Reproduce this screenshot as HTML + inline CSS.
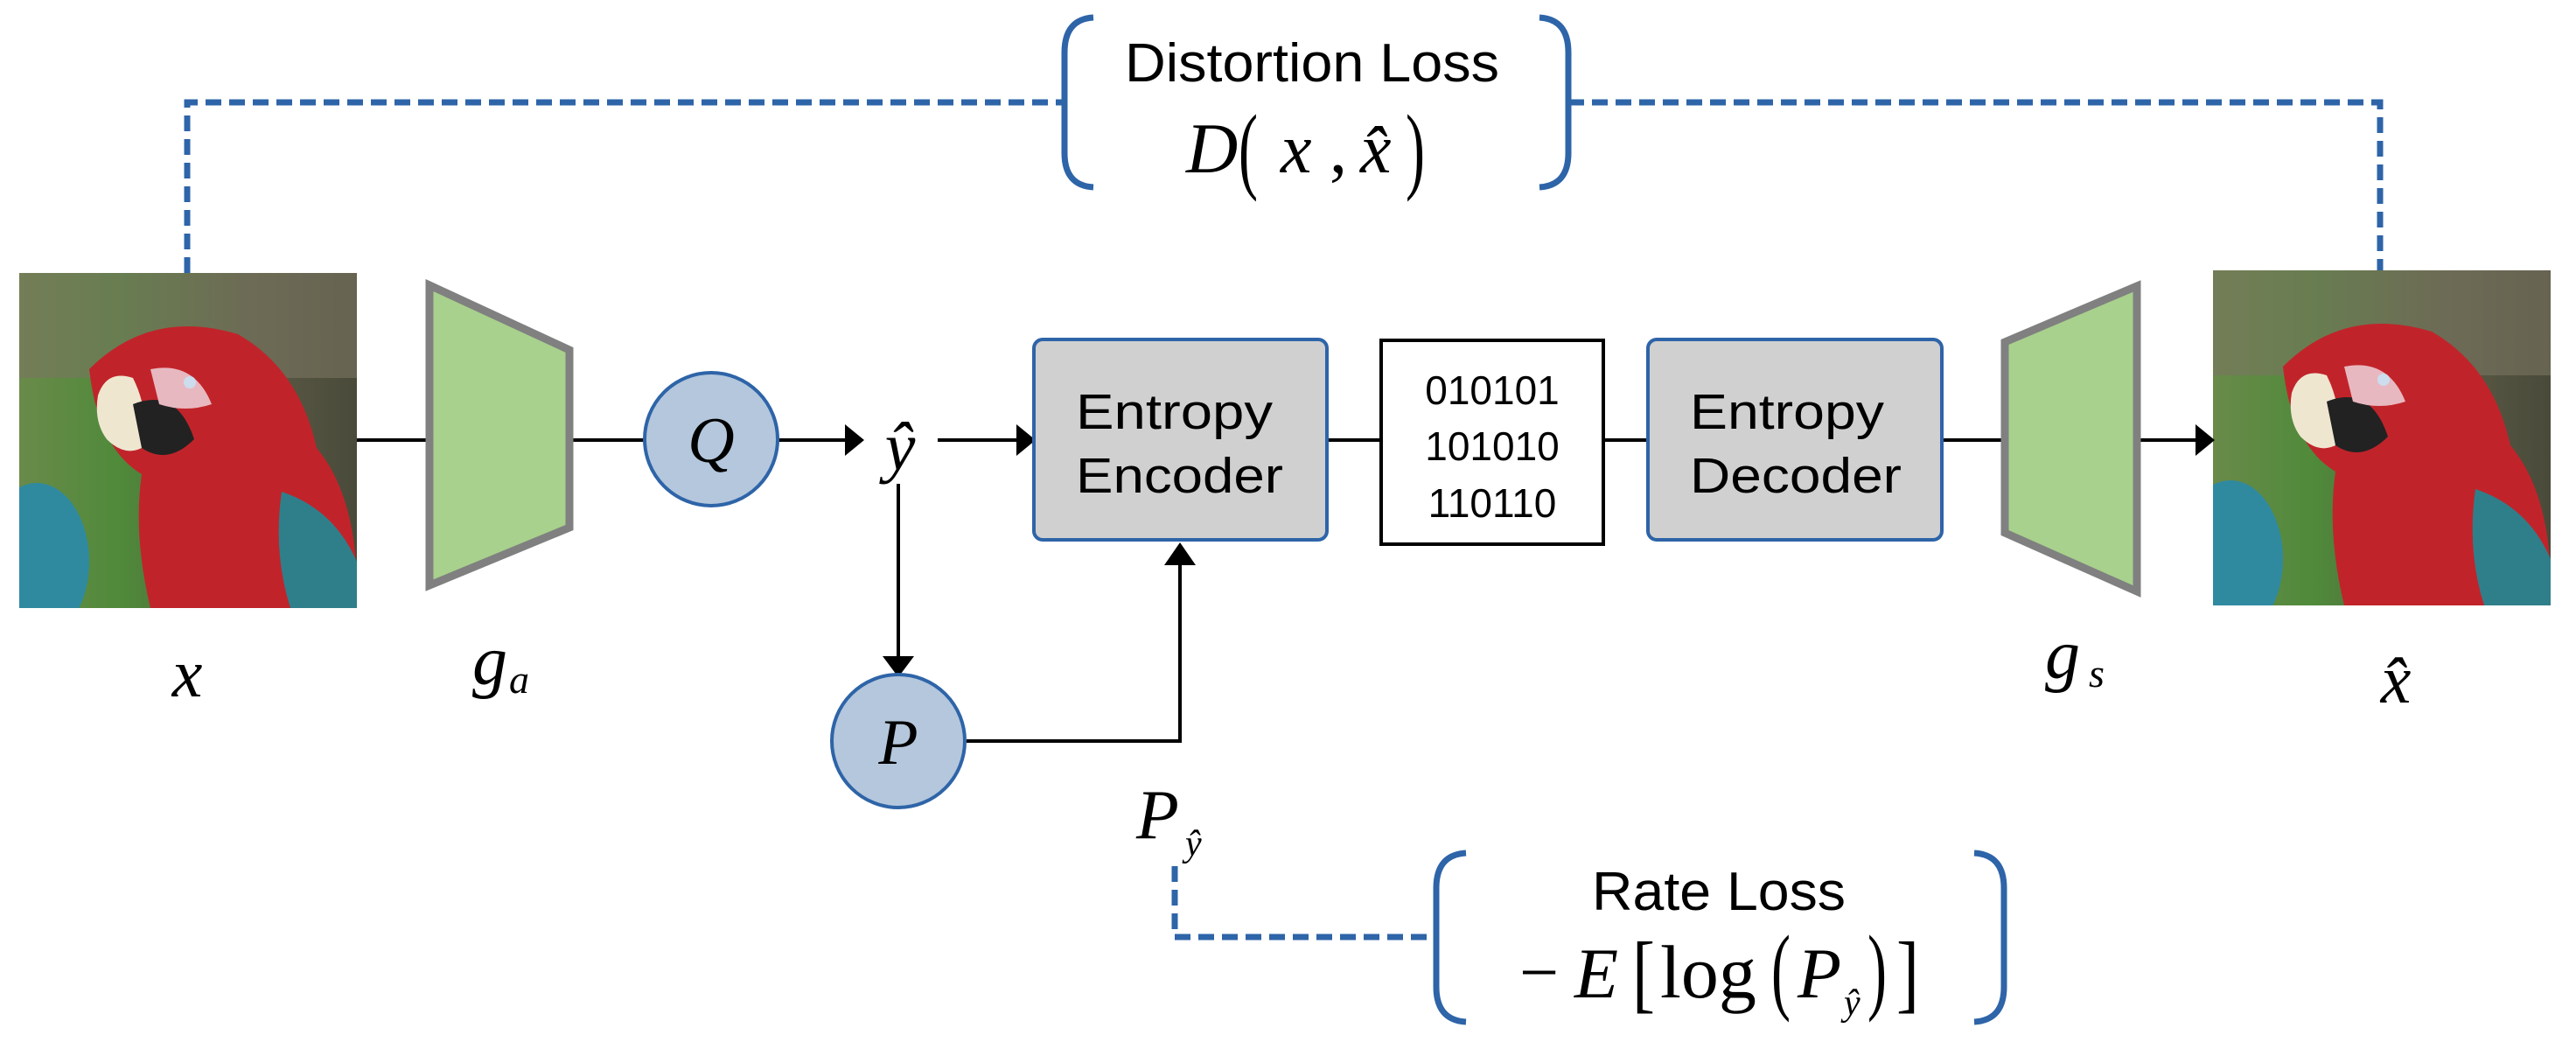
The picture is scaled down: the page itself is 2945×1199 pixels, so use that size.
<!DOCTYPE html>
<html><head><meta charset="utf-8"><style>
html,body{margin:0;padding:0;background:#fff}
svg{display:block}
.s{font-family:"Liberation Sans",sans-serif}
.m{font-family:"Liberation Serif",serif;font-style:italic}
.n{font-family:"Liberation Serif",serif}
</style></head><body>
<svg width="2945" height="1199" viewBox="0 0 2945 1199" xmlns="http://www.w3.org/2000/svg">
<defs>
<linearGradient id="bg" x1="0" y1="0" x2="1" y2="0">
<stop offset="0" stop-color="#6a8a4a"/><stop offset="0.3" stop-color="#4f8a3a"/><stop offset="0.7" stop-color="#5a5a45"/><stop offset="1" stop-color="#4a4a3a"/>
</linearGradient>
<clipPath id="cp"><rect x="0" y="0" width="386" height="383"/></clipPath>
<g id="parrot">
<g clip-path="url(#cp)">
<rect x="0" y="0" width="386" height="383" fill="url(#bg)"/>
<rect x="0" y="0" width="386" height="120" fill="#7a7560" opacity="0.6"/>
<ellipse cx="20" cy="330" rx="60" ry="90" fill="#2f8aa0"/>
<path d="M80 110 Q150 40 250 70 Q320 110 340 200 Q390 260 386 383 L150 383 Q130 300 140 230 Q90 200 80 110Z" fill="#c0242a"/>
<path d="M300 250 Q360 270 386 330 L386 383 L310 383 Q290 320 300 250Z" fill="#2f7f8a"/>
<path d="M90 140 Q100 110 130 120 Q150 160 140 200 Q120 210 100 190 Q85 170 90 140Z" fill="#efe6d0"/>
<path d="M130 150 Q180 130 200 190 Q170 220 140 200Z" fill="#222"/>
<path d="M150 110 Q200 100 220 150 Q190 160 160 150Z" fill="#e8b8c0"/>
<circle cx="195" cy="125" r="7" fill="#cde"/>
</g>
</g>
</defs>

<g fill="none" stroke="#2e64a8" stroke-width="7" stroke-dasharray="18 9">
<path d="M214 312 V117 H1215"/>
<path d="M1793 117 H2721 V309"/>
<path d="M1343 990 V1071 H1641"/>
</g>
<g fill="none" stroke="#2e64a8" stroke-width="7">
<path d="M1250 20 Q1217 22 1217 60 V175 Q1217 212 1250 214"/>
<path d="M1760 20 Q1793 22 1793 60 V175 Q1793 212 1760 214"/>
<path d="M1676 975 Q1642 977 1642 1015 V1128 Q1642 1166 1676 1168"/>
<path d="M2257 975 Q2291 977 2291 1015 V1128 Q2291 1166 2257 1168"/>
</g>
<text class="s" x="1500" y="93" font-size="62" text-anchor="middle" textLength="428" lengthAdjust="spacingAndGlyphs">Distortion Loss</text>
<text class="m" x="1356" y="197" font-size="82">D</text>
<text class="n" x="1416" y="207" font-size="110" font-weight="100" textLength="22" lengthAdjust="spacingAndGlyphs">(</text>
<text class="m" x="1464" y="197" font-size="80">x</text>
<text class="n" x="1520" y="197" font-size="80">,</text>
<text class="m" x="1555" y="197" font-size="80">x̂</text>
<text class="n" x="1607" y="207" font-size="110" textLength="22" lengthAdjust="spacingAndGlyphs">)</text>

<text class="s" x="1965" y="1040" font-size="62" text-anchor="middle" textLength="290" lengthAdjust="spacingAndGlyphs">Rate Loss</text>
<text class="n" x="1737" y="1138" font-size="80">−</text>
<text class="m" x="1800" y="1140" font-size="82">E</text>
<text class="n" x="1866" y="1145" font-size="100" textLength="26" lengthAdjust="spacingAndGlyphs">[</text>
<text class="n" x="1898" y="1140" font-size="86">log</text>
<text class="n" x="2025" y="1145" font-size="110" textLength="22" lengthAdjust="spacingAndGlyphs">(</text>
<text class="m" x="2055" y="1140" font-size="82">P</text>
<text class="m" x="2108" y="1160" font-size="42">ŷ</text>
<text class="n" x="2135" y="1145" font-size="110" textLength="22" lengthAdjust="spacingAndGlyphs">)</text>
<text class="n" x="2168" y="1145" font-size="100" textLength="26" lengthAdjust="spacingAndGlyphs">]</text>

<use href="#parrot" x="22" y="312"/>
<use href="#parrot" x="2530" y="309"/>

<g stroke="#000" stroke-width="4" fill="none">
<path d="M408 503 H488"/>
<path d="M654 503 H736"/>
<path d="M890 503 H970"/>
<path d="M1072 503 H1165"/>
<path d="M1027 553 V755"/>
<path d="M1105 847 H1349 V640"/>
<path d="M1517 503 H1579"/>
<path d="M1833 503 H1884"/>
<path d="M2220 503 H2289"/>
<path d="M2446 503 H2512"/>
</g>
<g fill="#000">
<path d="M988 503 L966 485 V521Z"/>
<path d="M1184 503 L1162 485 V521Z"/>
<path d="M1027 774 L1009 750 H1045Z"/>
<path d="M1349 620 L1331 646 H1367Z"/>
<path d="M2532 503 L2510 485 V521Z"/>
</g>

<path d="M491 326 L651 400 V603 L491 669Z" fill="#a8d18d" stroke="#808080" stroke-width="9"/>
<path d="M2292 391 L2443 327 V676 L2292 609Z" fill="#a8d18d" stroke="#808080" stroke-width="9"/>

<circle cx="813" cy="502" r="76" fill="#b4c7dc" stroke="#2e64a8" stroke-width="4"/>
<text class="m" x="813" y="528" font-size="74" text-anchor="middle">Q</text>
<circle cx="1027" cy="847" r="76" fill="#b4c7dc" stroke="#2e64a8" stroke-width="4"/>
<text class="m" x="1027" y="873" font-size="74" text-anchor="middle">P</text>

<rect x="1182" y="388" width="335" height="229" rx="10" fill="#d0d0d0" stroke="#2e64a8" stroke-width="4"/>
<text class="s" x="1230" y="490" font-size="57" textLength="225" lengthAdjust="spacingAndGlyphs">Entropy</text>
<text class="s" x="1230" y="563" font-size="57" textLength="237" lengthAdjust="spacingAndGlyphs">Encoder</text>
<rect x="1579" y="389" width="254" height="233" fill="#fff" stroke="#000" stroke-width="4"/>
<text class="s" x="1706" y="462" font-size="46" text-anchor="middle">010101</text>
<text class="s" x="1706" y="526" font-size="46" text-anchor="middle">101010</text>
<text class="s" x="1706" y="591" font-size="46" text-anchor="middle">110110</text>
<rect x="1884" y="388" width="336" height="229" rx="10" fill="#d0d0d0" stroke="#2e64a8" stroke-width="4"/>
<text class="s" x="1932" y="490" font-size="57" textLength="222" lengthAdjust="spacingAndGlyphs">Entropy</text>
<text class="s" x="1932" y="563" font-size="57" textLength="242" lengthAdjust="spacingAndGlyphs">Decoder</text>

<text class="m" x="214" y="796" font-size="78" text-anchor="middle">x</text>
<text class="m" x="540" y="782" font-size="80">g</text><text class="m" x="582" y="792" font-size="46">a</text>
<text class="m" x="2338" y="775" font-size="80">g</text><text class="m" x="2388" y="785" font-size="46">s</text>
<text class="m" x="2739" y="803" font-size="78" text-anchor="middle">x̂</text>
<text class="m" x="1029" y="537" font-size="78" text-anchor="middle">ŷ</text>
<text class="m" x="1299" y="958" font-size="80">P</text><text class="m" x="1355" y="978" font-size="42">ŷ</text>
</svg>
</body></html>
